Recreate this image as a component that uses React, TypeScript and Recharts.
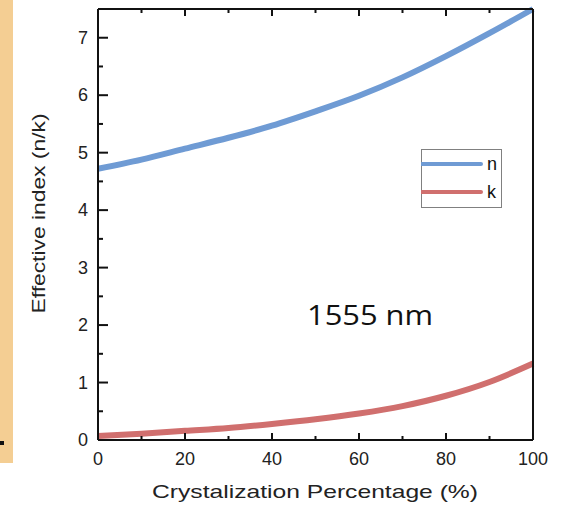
import React from "react";
import { LineChart, Line, XAxis, YAxis, Legend } from "recharts";

const xValues = [0, 10, 20, 30, 40, 50, 60, 70, 80, 90, 100];
const nValues = [4.72, 4.88, 5.07, 5.26, 5.47, 5.72, 5.99, 6.31, 6.68, 7.08, 7.5];
const kValues = [0.07, 0.11, 0.16, 0.21, 0.28, 0.36, 0.46, 0.59, 0.77, 1.01, 1.33];
const xTicks = [0, 10, 20, 30, 40, 50, 60, 70, 80, 90, 100];
const yTicks = [0, 0.5, 1, 1.5, 2, 2.5, 3, 3.5, 4, 4.5, 5, 5.5, 6, 6.5, 7];
const seriesNames = ["n", "k"];
const seriesColors = ["#6f9bd4", "#d06f6e"];
const xTitle = "Crystalization Percentage (%)";
const yTitle = "Effective index (n/k)";
const annotation = "1555 nm";

const data = xValues.map((x, i) => ({ x, n: nValues[i], k: kValues[i] }));

const FONT = "'Liberation Sans', Arial, sans-serif";

const BottomTick = (p: any) => {
  const v = p.payload.value;
  const major = v % 20 === 0;
  return (
    <g>
      <line x1={p.x} x2={p.x} y1={p.y} y2={p.y - (major ? 7 : 4)} stroke="#111" strokeWidth={2} />
      {major && (
        <text x={p.x} y={p.y + 25} textAnchor="middle" fontSize={18} fill="#222" fontFamily={FONT}>
          {v}
        </text>
      )}
    </g>
  );
};

const TopTick = (p: any) => {
  const v = p.payload.value;
  const major = v % 20 === 0;
  return <line x1={p.x} x2={p.x} y1={p.y} y2={p.y + (major ? 7 : 4)} stroke="#111" strokeWidth={2} />;
};

const LeftTick = (p: any) => {
  const v = p.payload.value;
  const major = Number.isInteger(v);
  return (
    <g>
      <line x1={p.x} x2={p.x + (major ? 10 : 5)} y1={p.y} y2={p.y} stroke="#111" strokeWidth={2} />
      {major && (
        <text x={p.x - 10} y={p.y + 6} textAnchor="end" fontSize={18} fill="#222" fontFamily={FONT}>
          {v}
        </text>
      )}
    </g>
  );
};

const RightTick = (p: any) => {
  const v = p.payload.value;
  const major = Number.isInteger(v);
  return <line x1={p.x} x2={p.x - (major ? 10 : 5)} y1={p.y} y2={p.y} stroke="#111" strokeWidth={2} />;
};

const LegendContent = (props: any) => {
  const payload = [...(props.payload || [])].sort(
    (a: any, b: any) => seriesNames.indexOf(a.value) - seriesNames.indexOf(b.value)
  );
  return (
    <svg width={81} height={59} style={{ display: "block" }}>
      <rect x={0.5} y={0.5} width={80} height={58} fill="#fff" stroke="#808080" strokeWidth={1} />
      {payload.map((entry: any, i: number) => (
        <g key={entry.value}>
          <line x1={1} x2={60} y1={15 + i * 28} y2={15 + i * 28} stroke={entry.color} strokeWidth={4} strokeLinecap="round" />
          <text x={66} y={21 + i * 28} fontSize={18} fill="#111" fontFamily={FONT}>
            {entry.value}
          </text>
        </g>
      ))}
    </svg>
  );
};

export default function App() {
  return (
    <div style={{ position: "absolute", left: 0, top: 0, width: 577, height: 505, background: "#fff", overflow: "hidden" }}>
      <div style={{ position: "absolute", left: 0, top: 0, width: 13, height: 463, background: "#f4ce93" }} />
      <div style={{ position: "absolute", left: 0, top: 441, width: 4, height: 4, background: "#111" }} />
      <div style={{ position: "absolute", left: 0, top: 0 }}>
        <LineChart width={577} height={505} data={data} margin={{ top: 0, right: 0, bottom: 0, left: 0 }}>
          <XAxis
            xAxisId="b"
            dataKey="x"
            type="number"
            domain={[0, 100]}
            ticks={xTicks}
            interval={0}
            orientation="bottom"
            height={65}
            tickSize={0}
            tickMargin={0}
            tickLine={false}
            axisLine={{ stroke: "#111", strokeWidth: 2 }}
            tick={<BottomTick />}
            label={{
              content: (lp: any) => {
                const vb = lp.viewBox;
                return (
                  <text x={315} y={vb.y + 58} textAnchor="middle" fontSize={19} fill="#222" fontFamily={FONT} textLength={326} lengthAdjust="spacingAndGlyphs">
                    {xTitle}
                  </text>
                );
              },
            }}
          />
          <XAxis
            xAxisId="t"
            dataKey="x"
            type="number"
            domain={[0, 100]}
            ticks={xTicks}
            interval={0}
            orientation="top"
            height={9}
            tickSize={0}
            tickMargin={0}
            tickLine={false}
            axisLine={{ stroke: "#111", strokeWidth: 2 }}
            tick={<TopTick />}
          />
          <YAxis
            yAxisId="l"
            type="number"
            domain={[0, 7.5]}
            ticks={yTicks}
            interval={0}
            orientation="left"
            width={98}
            tickSize={0}
            tickMargin={0}
            tickLine={false}
            axisLine={{ stroke: "#111", strokeWidth: 2 }}
            tick={<LeftTick />}
            label={{
              content: (lp: any) => {
                const vb = lp.viewBox;
                const cy = vb.y + vb.height / 2 - 11;
                return (
                  <text x={45} y={cy} transform={`rotate(-90, 45, ${cy})`} textAnchor="middle" fontSize={19} fill="#222" fontFamily={FONT} textLength={200} lengthAdjust="spacingAndGlyphs">
                    {yTitle}
                  </text>
                );
              },
            }}
          />
          <YAxis
            yAxisId="r"
            type="number"
            domain={[0, 7.5]}
            ticks={yTicks}
            interval={0}
            orientation="right"
            width={44}
            tickSize={0}
            tickMargin={0}
            tickLine={false}
            axisLine={{ stroke: "#111", strokeWidth: 2 }}
            tick={<RightTick />}
          />
          <Legend
            layout="horizontal"
            verticalAlign="middle"
            align="center"
            content={<LegendContent />}
            wrapperStyle={{ left: 421, top: 149, width: 81, height: 59 }}
          />
          <Line xAxisId="b" yAxisId="l" type="monotone" dataKey="n" name={seriesNames[0]} stroke={seriesColors[0]} strokeWidth={6} dot={false} isAnimationActive={false} />
          <Line xAxisId="b" yAxisId="l" type="monotone" dataKey="k" name={seriesNames[1]} stroke={seriesColors[1]} strokeWidth={6} dot={false} isAnimationActive={false} />
        </LineChart>
      </div>
      <svg width={577} height={505} style={{ position: "absolute", left: 0, top: 0, pointerEvents: "none" }}>
        <text x={307} y={325} fontSize={28} fill="#111" fontFamily="'Open Sans', sans-serif" textLength={126} lengthAdjust="spacingAndGlyphs">
          {annotation}
        </text>
      </svg>
    </div>
  );
}
